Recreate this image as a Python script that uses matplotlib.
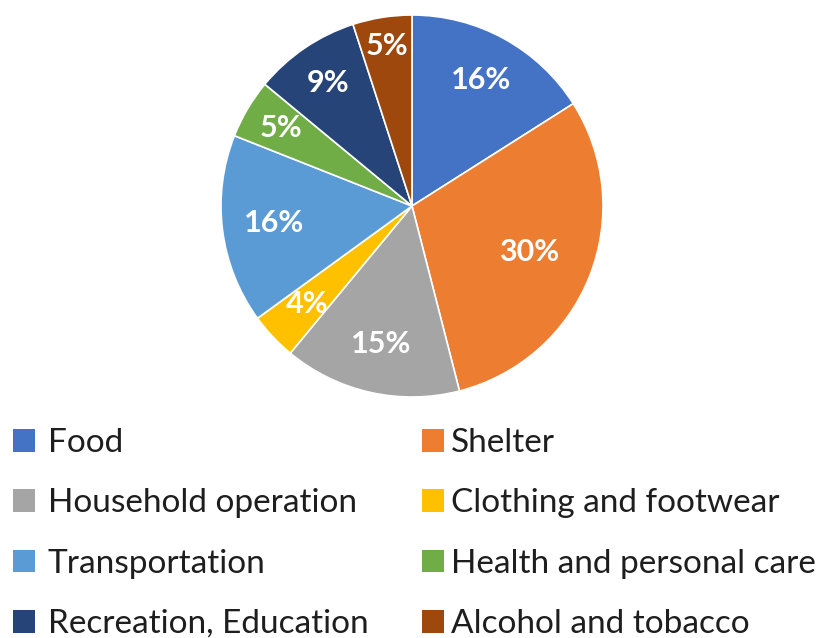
import numpy as np
import matplotlib
matplotlib.use("Agg")
import matplotlib.pyplot as plt
from matplotlib.patches import Patch

categories = ["Food", "Shelter", "Household operation", "Clothing and footwear",
              "Transportation", "Health and personal care", "Recreation, Education",
              "Alcohol and tobacco"]
shares = [16, 30, 15, 4, 16, 5, 9, 5]
labels = ["16%", "30%", "15%", "4%", "16%", "5%", "9%", "5%"]
colors = ["#4472C4", "#ED7D31", "#A5A5A5", "#FFC000", "#5B9BD5", "#70AD47", "#264478", "#9E480E"]
label_dist = [0.75, 0.66, 0.74, 0.75, 0.73, 0.80, 0.78, 0.85]

plt.rcParams['font.family'] = ['Lato', 'DejaVu Sans']

W, H = 836, 638
fig = plt.figure(figsize=(W / 100, H / 100), dpi=100)
fig.patch.set_facecolor("white")

cx, cy, r = 412, 206, 191
ax = fig.add_axes([(cx - r) / W, (H - cy - r) / H, 2 * r / W, 2 * r / H])
wedges, _ = ax.pie(shares, colors=colors, startangle=90, counterclock=False,
                   wedgeprops=dict(edgecolor="white", linewidth=1.2))
ax.set_xlim(-1, 1)
ax.set_ylim(-1, 1)
ax.axis("off")

for w, lab, d in zip(wedges, labels, label_dist):
    ang = np.deg2rad((w.theta1 + w.theta2) / 2)
    ax.text(d * np.cos(ang), d * np.sin(ang), lab, ha="center", va="center",
            color="white", fontsize=22, fontweight="bold")

fs = 24
fpx = fs * 100 / 72
handles = [Patch(facecolor=c, edgecolor="none") for c in colors]
col1 = [0, 2, 4, 6]
col2 = [1, 3, 5, 7]
common = dict(frameon=False, fontsize=fs, handlelength=22 / fpx, handleheight=22 / fpx,
              labelspacing=0.91, borderpad=0, borderaxespad=0,
              labelcolor="#1e1e1e", loc="upper left")
top_y = 1 - 428 / H
leg1 = fig.legend([handles[i] for i in col1], [categories[i] for i in col1],
                  bbox_to_anchor=(13 / W, top_y), handletextpad=13 / fpx, **common)
leg2 = fig.legend([handles[i] for i in col2], [categories[i] for i in col2],
                  bbox_to_anchor=(422 / W, top_y), handletextpad=7 / fpx, **common)

fig.savefig("out.png", dpi=100, facecolor="white")
